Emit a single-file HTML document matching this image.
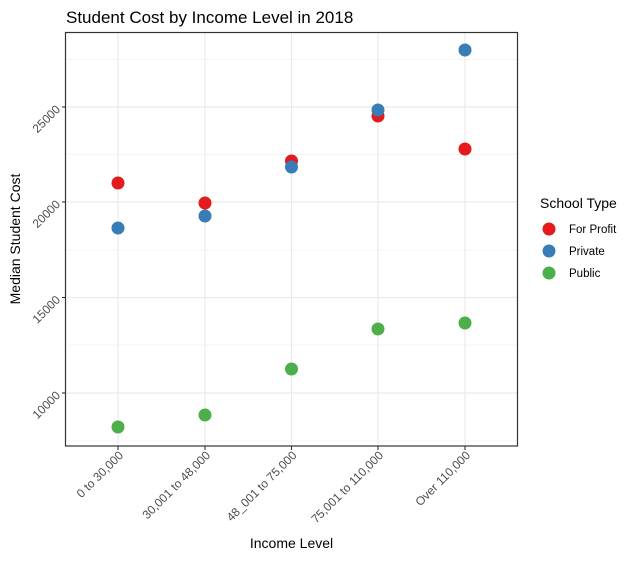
<!DOCTYPE html>
<html><head><style>body{margin:0;background:#fff}</style></head><body>
<svg width="636" height="558" xmlns="http://www.w3.org/2000/svg" font-family="Liberation Sans, sans-serif">
<rect width="636" height="558" fill="#fff"/>
<g stroke="#ebebeb" stroke-width="0.6">
<line x1="66" x2="517" y1="59.5" y2="59.5"/><line x1="66" x2="517" y1="154.5" y2="154.5"/><line x1="66" x2="517" y1="250" y2="250"/><line x1="66" x2="517" y1="345" y2="345"/><line x1="66" x2="517" y1="441" y2="441"/>
</g>
<g stroke="#ebebeb" stroke-width="1.2">
<line x1="66" x2="517" y1="107" y2="107"/><line x1="66" x2="517" y1="202" y2="202"/><line x1="66" x2="517" y1="297.5" y2="297.5"/><line x1="66" x2="517" y1="393" y2="393"/>
<line x1="118" x2="118" y1="32" y2="446"/><line x1="205" x2="205" y1="32" y2="446"/><line x1="291.5" x2="291.5" y1="32" y2="446"/><line x1="378" x2="378" y1="32" y2="446"/><line x1="465" x2="465" y1="32" y2="446"/>
</g>
<rect x="65.5" y="32.5" width="452" height="413.5" fill="none" stroke="#333" stroke-width="1.2"/>
<g stroke="#333" stroke-width="1.1">
<line x1="62" x2="65.5" y1="107" y2="107"/><line x1="62" x2="65.5" y1="202" y2="202"/><line x1="62" x2="65.5" y1="297.5" y2="297.5"/><line x1="62" x2="65.5" y1="393" y2="393"/>
<line x1="118" x2="118" y1="446" y2="450"/><line x1="205" x2="205" y1="446" y2="450"/><line x1="291.5" x2="291.5" y1="446" y2="450"/><line x1="378" x2="378" y1="446" y2="450"/><line x1="465" x2="465" y1="446" y2="450"/>
</g>
<g font-size="12" fill="#4d4d4d" text-anchor="end">
<text transform="translate(61,110) rotate(-45)">25000</text>
<text transform="translate(61,205) rotate(-45)">20000</text>
<text transform="translate(61,300.5) rotate(-45)">15000</text>
<text transform="translate(61,396) rotate(-45)">10000</text>
<text transform="translate(124,456) rotate(-45)">0 to 30,000</text>
<text transform="translate(211,456) rotate(-45)">30,001 to 48,000</text>
<text transform="translate(297.5,456) rotate(-45)">48_001 to 75,000</text>
<text transform="translate(384,456) rotate(-45)">75,001 to 110,000</text>
<text transform="translate(471,456) rotate(-45)">Over 110,000</text>
</g>
<text x="66" y="23" font-size="17" fill="#000">Student Cost by Income Level in 2018</text>
<text x="291.5" y="548" font-size="14" text-anchor="middle" fill="#000">Income Level</text>
<text transform="translate(20,239) rotate(-90)" font-size="14" text-anchor="middle" fill="#000">Median Student Cost</text>
<g>
<circle cx="118" cy="183" r="6.5" fill="#e41a1c"/><circle cx="205" cy="203" r="6.5" fill="#e41a1c"/><circle cx="291.5" cy="161" r="6.5" fill="#e41a1c"/><circle cx="378" cy="116" r="6.5" fill="#e41a1c"/><circle cx="465" cy="149" r="6.5" fill="#e41a1c"/>
<circle cx="118" cy="228" r="6.5" fill="#377eb8"/><circle cx="205" cy="216" r="6.5" fill="#377eb8"/><circle cx="291.5" cy="167" r="6.5" fill="#377eb8"/><circle cx="378" cy="110" r="6.5" fill="#377eb8"/><circle cx="465" cy="50" r="6.5" fill="#377eb8"/>
<circle cx="118" cy="427" r="6.5" fill="#4daf4a"/><circle cx="205" cy="415" r="6.5" fill="#4daf4a"/><circle cx="291.5" cy="369" r="6.5" fill="#4daf4a"/><circle cx="378" cy="329" r="6.5" fill="#4daf4a"/><circle cx="465" cy="323" r="6.5" fill="#4daf4a"/>
</g>
<text x="540" y="208" font-size="14" fill="#000">School Type</text>
<circle cx="549" cy="229" r="6.5" fill="#e41a1c"/><circle cx="549" cy="251" r="6.5" fill="#377eb8"/><circle cx="549" cy="273" r="6.5" fill="#4daf4a"/>
<g font-size="11.5" fill="#000">
<text x="569" y="233">For Profit</text><text x="569" y="255">Private</text><text x="569" y="277">Public</text>
</g>
</svg>
</body></html>
